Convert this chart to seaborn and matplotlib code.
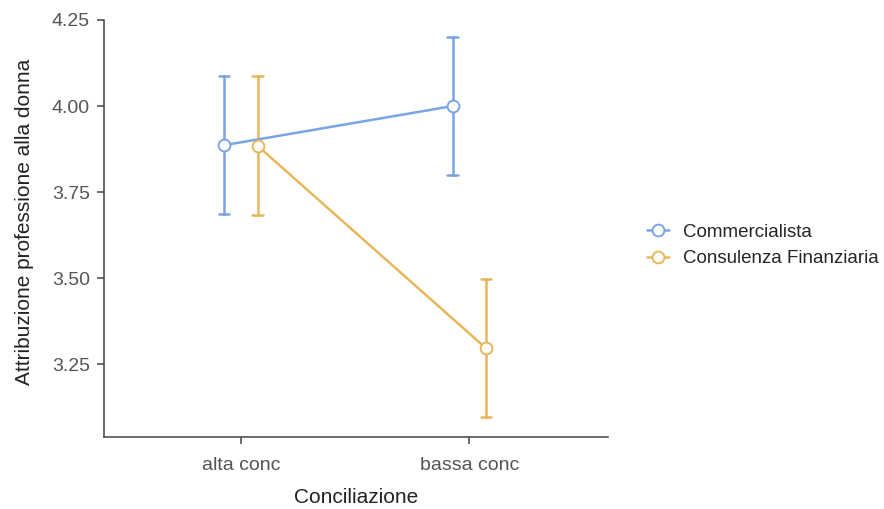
import matplotlib
matplotlib.use("Agg")
import matplotlib.pyplot as plt
import seaborn as sns
import pandas as pd

# Data
categories = ["alta conc", "bassa conc"]
groups = ["Commercialista", "Consulenza Finanziaria"]
means_comm = [3.886, 4.000]
means_cons = [3.883, 3.298]
ci_lo_comm = [3.687, 3.800]
ci_hi_comm = [4.086, 4.200]
ci_lo_cons = [3.683, 3.096]
ci_hi_cons = [4.086, 3.498]
yticks = [3.25, 3.50, 3.75, 4.00, 4.25]
ytick_labels = ["3.25", "3.50", "3.75", "4.00", "4.25"]

colors = {"Commercialista": "#7BA4E3", "Consulenza Finanziaria": "#E8B75C"}

rows = []
for g, los, his in [(groups[0], ci_lo_comm, ci_hi_comm), (groups[1], ci_lo_cons, ci_hi_cons)]:
    for c, lo, hi in zip(categories, los, his):
        rows.append({"Conciliazione": c, "gruppo": g, "val": lo})
        rows.append({"Conciliazione": c, "gruppo": g, "val": hi})
df = pd.DataFrame(rows)

sns.set_style("white")
plt.rcParams["font.family"] = ["Liberation Sans", "DejaVu Sans"]

fig = plt.figure(figsize=(8.84, 5.09), dpi=100)
ax = fig.add_axes([104 / 884, 1 - 437.3 / 509, 503.5 / 884, (437.3 - 20) / 509])

sns.pointplot(
    data=df, x="Conciliazione", y="val", hue="gruppo", order=categories,
    hue_order=groups, palette=colors, estimator="mean",
    errorbar=lambda v: (v.min(), v.max()), dodge=0.146, capsize=0.045,
    markers="o", linestyles="-", markersize=8.5, markerfacecolor="white",
    markeredgewidth=1.4, linewidth=1.8, err_kws={"linewidth": 1.8}, ax=ax,
)

# markers on top of error bars
for ln in ax.lines:
    if ln.get_marker() not in (None, "None", "", " "):
        ln.set_zorder(5)

ax.set_xlim(-0.6, 1.606)
ax.set_ylim(3.038, 4.25)
ax.set_yticks(yticks)
ax.set_yticklabels(ytick_labels)

for s in ["top", "right"]:
    ax.spines[s].set_visible(False)
for s in ["left", "bottom"]:
    ax.spines[s].set_color("#444444")
    ax.spines[s].set_linewidth(1.1)
ax.tick_params(axis="both", which="both", direction="out", length=5, width=1.1,
               color="#444444", labelcolor="#555555", labelsize=14, pad=5,
               left=True, bottom=True)
ax.tick_params(axis="x", pad=9)

ax.set_xlabel("Conciliazione", fontsize=15, color="#222222", labelpad=10)
ax.set_ylabel("Attribuzione professione alla donna", fontsize=15, color="#222222")
ax.yaxis.set_label_coords(-0.139, 0.517)

sns.move_legend(ax, loc="center left", bbox_to_anchor=(630 / 884, 1 - 245.5 / 509),
                bbox_transform=fig.transFigure, frameon=False, title=None,
                fontsize=13.5, handlelength=1.2, handletextpad=0.75, labelspacing=0.5)

fig.savefig("out.png", dpi=100)
